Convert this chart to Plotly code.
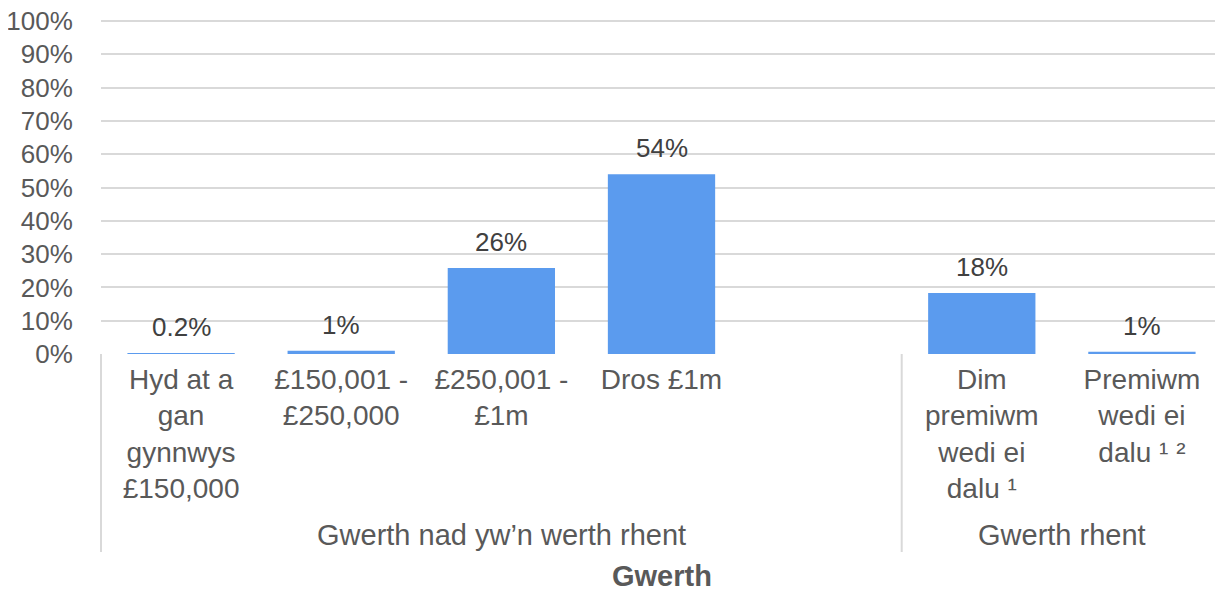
import plotly.graph_objects as go

categories = ["c1", "c2", "c3", "c4", "gap", "c5", "c6"]
tick_labels = [
    "Hyd at a<br>gan<br>gynnwys<br>£150,000",
    "£150,001 -<br>£250,000",
    "£250,001 -<br>£1m",
    "Dros £1m",
    "",
    "Dim<br>premiwm<br>wedi ei<br>dalu ¹",
    "Premiwm<br>wedi ei<br>dalu ¹ ²",
]
values = [0.2, 1.0, 25.8, 54.0, None, 18.3, 0.7]
value_labels = ["0.2%", "1%", "26%", "54%", "", "18%", "1%"]
groups = ["Gwerth nad yw’n werth rhent", "Gwerth rhent"]
group_members = [["c1", "c2", "c3", "c4", "gap"], ["c5", "c6"]]
y_ticks = list(range(0, 101, 10))

BAR = "#5B9BEE"
TEXT = "#595959"
LABEL = "#404040"
GRID = "#D9D9D9"
FONT = "Liberation Sans, Arial, sans-serif"

fig = go.Figure()
fig.add_trace(
    go.Bar(
        x=categories,
        y=values,
        marker=dict(color=BAR, line=dict(width=0)),
        hoverinfo="skip",
    )
)

for cat, val, lab in zip(categories, values, value_labels):
    if val is None:
        continue
    fig.add_annotation(
        x=cat, y=val, text=lab, showarrow=False, yanchor="bottom", yshift=9,
        font=dict(size=26, color=LABEL, family=FONT),
    )

# plot is 338px tall (0..101.5); paper offsets below the axis are in those units
PLOT_H = 338
n = len(categories)
edges = [0]
for members in group_members:
    edges.append(edges[-1] + len(members))
for e in edges:
    fig.add_shape(
        type="line", xref="paper", yref="paper",
        x0=e / n, x1=e / n, y0=0, y1=-198 / PLOT_H,
        line=dict(color=GRID, width=2),
    )
for name, members in zip(groups, group_members):
    idx = [categories.index(m) for m in members]
    fig.add_annotation(
        x=sum(idx) / len(idx), xref="x", y=-181 / PLOT_H, yref="paper", text=name,
        showarrow=False, yanchor="middle",
        font=dict(size=29, color=TEXT, family=FONT),
    )
fig.add_annotation(
    x=0.5, xref="paper", y=-222 / PLOT_H, yref="paper", text="<b>Gwerth</b>",
    showarrow=False, yanchor="middle",
    font=dict(size=29, color=TEXT, family=FONT),
)

# the page body adds an 8px margin, so the figure is 16px smaller than the window
fig.update_layout(
    width=1215,
    height=583,
    margin=dict(l=93, r=1, t=8, b=237),
    plot_bgcolor="white",
    paper_bgcolor="white",
    showlegend=False,
    bargap=0.33,
    font=dict(family=FONT, size=26, color=TEXT),
)
fig.update_xaxes(
    tickmode="array", tickvals=categories, ticktext=tick_labels,
    showgrid=False, showline=False, ticks="", zeroline=False,
    tickfont=dict(size=28, color=TEXT), ticklabelstandoff=6, automargin=False,
)
fig.update_yaxes(
    range=[0, 101.5], tickvals=y_ticks, ticktext=[f"{t}%" for t in y_ticks],
    showgrid=True, gridcolor=GRID, gridwidth=2, zeroline=False,
    showline=False, ticks="outside", ticklen=22, tickcolor="rgba(0,0,0,0)",
    tickfont=dict(size=26, color=TEXT), ticklabeloverflow="allow", automargin=False,
)

fig.write_html("out.html")
